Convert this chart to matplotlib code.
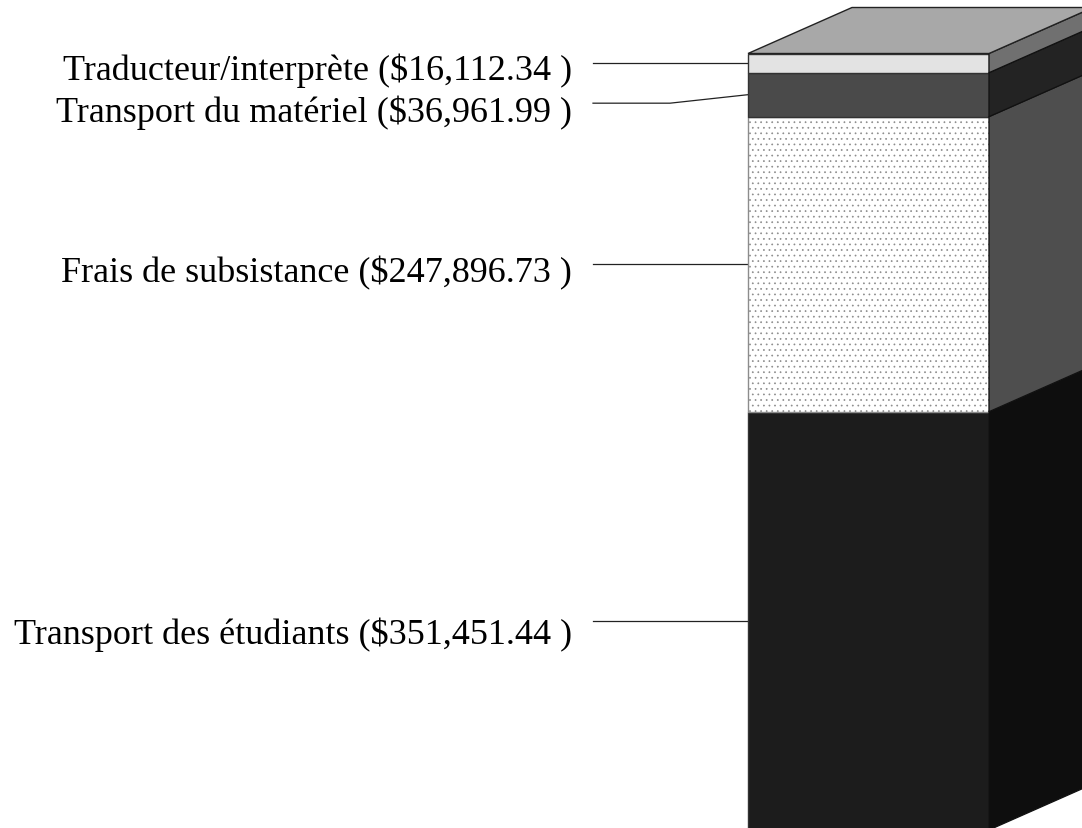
import matplotlib
matplotlib.use("Agg")
import numpy as np
import matplotlib.pyplot as plt
from matplotlib.patches import Polygon

plt.rcParams['font.family'] = ['Liberation Serif', 'DejaVu Serif']
plt.rcParams['hatch.linewidth'] = 0.5

# bottom to top
categories = ["Transport des étudiants", "Frais de subsistance",
              "Transport du matériel", "Traducteur/interprète"]
values = [351451.44, 247896.73, 36961.99, 16112.34]
labels = ["($351,451.44 )", "($247,896.73 )", "($36,961.99 )", "($16,112.34 )"]
front_colors = ["#1c1c1c", "#ffffff", "#4a4a4a", "#e3e3e3"]
side_colors = ["#0e0e0e", "#4e4e4e", "#232323", "#707070"]
hatches = [None, "...", None, None]
text_drop_px = [22, 17, 18, 16]

total = sum(values)
px_per_dollar = 1.19 / 1000

fig = plt.figure(figsize=(10.82, 8.29), dpi=100)
ax = fig.add_axes([0, 0, 1, 1])
ax.set_xlim(0, 1082)
# bar base sits just under the bottom of the picture
ax.set_ylim(2 / px_per_dollar, total + 54.5 / px_per_dollar)
ax.axis("off")

bar_left, bar_right = 748, 989
dx = 104
dy = 46 / px_per_dollar

bottoms = np.concatenate([[0], np.cumsum(values)[:-1]])

# front
for v, b, c, h in zip(values, bottoms, front_colors, hatches):
    ax.bar(bar_left, v, width=bar_right - bar_left, bottom=b, align="edge",
           color=c, edgecolor="#8c8c8c" if h else "#333333", hatch=h, linewidth=1.0, zorder=2)

# right side
for v, b, c in zip(values, bottoms, side_colors):
    ax.add_patch(Polygon([(bar_right, b), (bar_right + dx, b + dy),
                          (bar_right + dx, b + v + dy), (bar_right, b + v)],
                         closed=True, facecolor=c, edgecolor="#111111", linewidth=0.9, zorder=2))

# top
ax.add_patch(Polygon([(bar_left, total), (bar_right, total),
                      (bar_right + dx, total + dy), (bar_left + dx, total + dy)],
                     closed=True, facecolor="#a8a8a8", edgecolor="#222222", linewidth=1.0, zorder=3))

# leaders and labels
mids = bottoms + np.array(values) / 2
for cat, lab, m, drop in zip(categories, labels, mids, text_drop_px):
    if cat == "Transport du matériel":
        y_left = m - 8.5 / px_per_dollar
        ax.plot([593, 670, bar_left], [y_left, y_left, m], color="#222222", lw=0.9, zorder=1)
    else:
        y_left = m
        ax.plot([593, bar_left], [m, m], color="#222222", lw=0.9, zorder=1)
    ax.text(572, y_left - drop / px_per_dollar, cat + " " + lab, ha="right", va="baseline",
            fontsize=26, color="black")

fig.savefig("out.png", dpi=100)
